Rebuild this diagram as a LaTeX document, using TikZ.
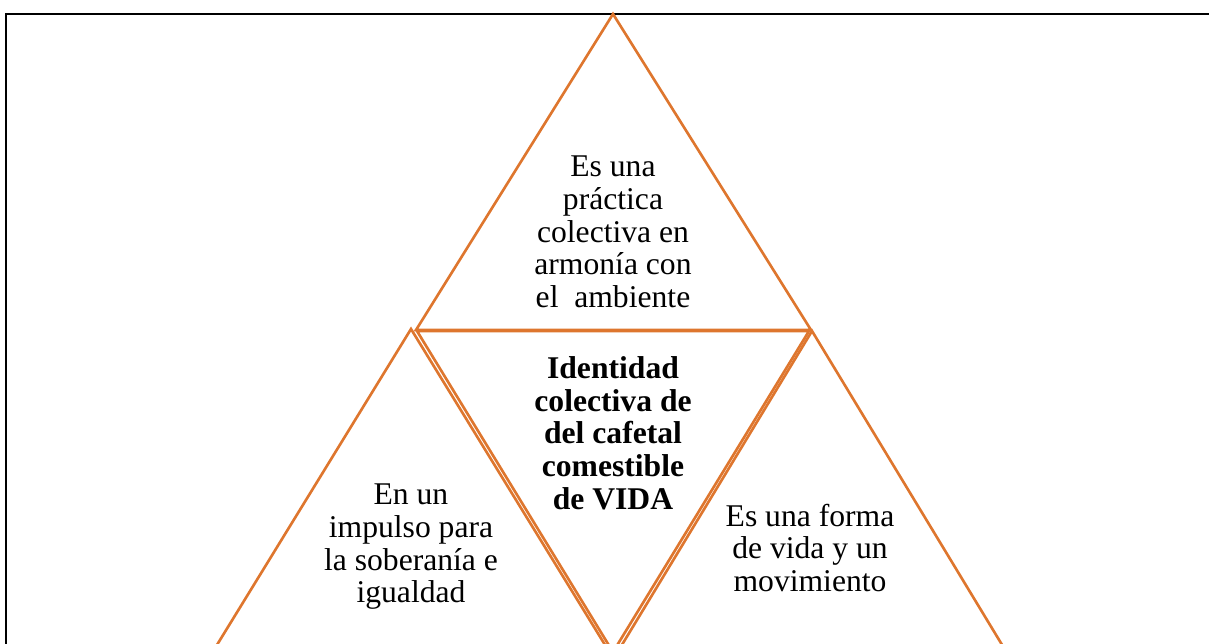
\documentclass[tikz,border=0pt]{standalone}
\usepackage{fontspec}
\setmainfont{Liberation Serif}
\definecolor{tri}{RGB}{222,118,46}
\begin{document}
\begin{tikzpicture}[x=0.02cm, y=-0.02cm,
    side/.style={draw=tri, line width=1.5pt, line join=miter},
    txt/.style={align=center, inner sep=0pt, font=\fontsize{18}{18.6}\selectfont}]
    \useasboundingbox (0,0) rectangle (1209,643);
    \clip (0,0) rectangle (1209,643);
    \draw[line width=1pt] (6,14) rectangle (1230,670);% frame
    % corners of the four triangles
    \coordinate (ta) at (613,14);   \coordinate (tl) at (416,330);  \coordinate (tr) at (811,330);
    \coordinate (ml) at (417,331);  \coordinate (mr) at (809,331);  \coordinate (mb) at (613,652);
    \coordinate (la) at (411,329);  \coordinate (ll) at (212,653);  \coordinate (lr) at (610,653);
    \coordinate (ra) at (812,331);  \coordinate (rl) at (617,653);  \coordinate (rr) at (1007,653);
    \draw[side] (ta) -- (tl) -- (tr) -- cycle;
    \draw[side] (ml) -- (mr) -- (mb) -- cycle;
    \draw[side] (la) -- (ll) -- (lr) -- cycle;
    \draw[side] (ra) -- (rl) -- (rr) -- cycle;
    \node[txt] (top) at (613,232) {Es una\\práctica\\colectiva en\\armonía con\\el\ \ ambiente};
    \node[txt, font=\fontsize{18}{18.6}\selectfont\bfseries] (mid) at (613,433) {Identidad\\colectiva de\\del cafetal\\comestible\\de VIDA};
    \node[txt] (left) at (411,547) {En un\\impulso para\\la soberanía e\\igualdad};
    \node[txt] (right) at (810,548) {Es una forma\\de vida y un\\movimiento};
\end{tikzpicture}
\end{document}
